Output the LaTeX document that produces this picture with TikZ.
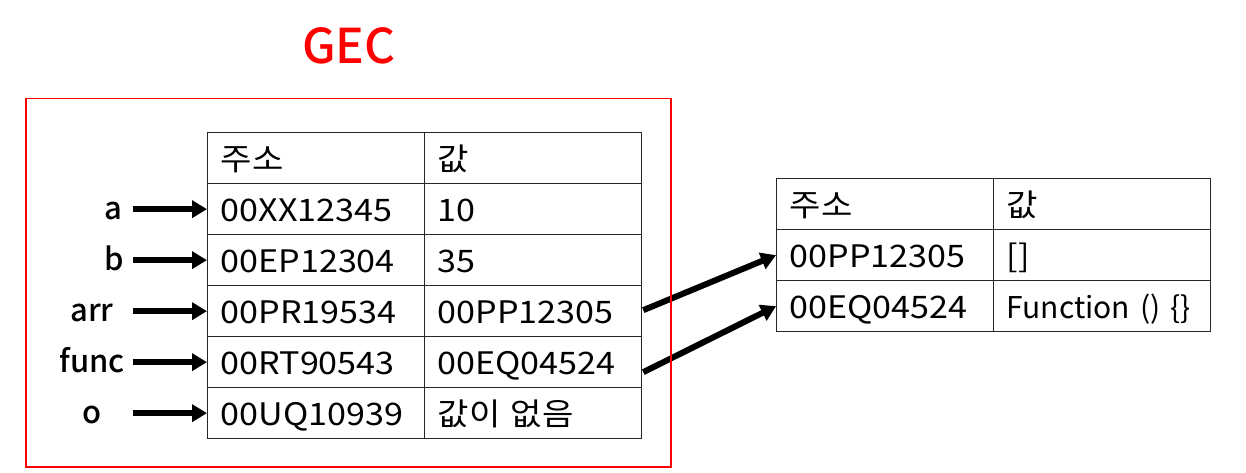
\documentclass[tikz,border=0pt]{standalone}
\usepackage{fontspec}
\setmainfont{Noto Sans CJK KR}
\newfontfamily\tblfont{Noto Sans CJK KR}[FakeStretch=1.1]
\newfontfamily\medfont{Noto Sans CJK KR}[UprightFont={* Medium}]
\usetikzlibrary{arrows.meta,calc}
\begin{document}
\begin{tikzpicture}[x=1pt,y=-1pt,
  cell/.style={draw=black!85, line width=1.3pt, minimum height=51pt,
    text width=191pt, inner xsep=13pt, inner ysep=0pt, align=left,
    anchor=north west, text height=25pt, text depth=0pt,
    font=\tblfont\fontsize{31}{36}\selectfont},
  ptr/.style={line width=6pt, -{Triangle[length=15pt,width=17pt]}},
  lab/.style={font=\medfont\fontsize{31}{36}\selectfont, inner sep=0pt},
  frame/.style={draw=red, line width=1.5pt, inner sep=0pt, anchor=north west}]
\path[use as bounding box, fill=white] (0,0) rectangle (1246,473);

% title
\node[text=red, font=\medfont\fontsize{48}{56}\selectfont] (title) at (349,46) {GEC};

% left table
\node[cell] (h1) at (207,132) {주소};
\node[cell] (h2) at (424,132) {값};
\node[cell] (k1) at (207,183) {00XX12345};
\node[cell] (v1) at (424,183) {10};
\node[cell] (k2) at (207,234) {00EP12304};
\node[cell] (v2) at (424,234) {35};
\node[cell] (k3) at (207,285) {00PR19534};
\node[cell] (v3) at (424,285) {00PP12305};
\node[cell] (k4) at (207,336) {00RT90543};
\node[cell] (v4) at (424,336) {00EQ04524};
\node[cell] (k5) at (207,387) {00UQ10939};
\node[cell] (v5) at (424,387) {값이 없음};

% right table
\node[cell] (rh1) at (776,178) {주소};
\node[cell] (rh2) at (993,178) {값};
\node[cell] (rk1) at (776,229) {00PP12305};
\node[cell] (rv1) at (993,229) {[]};
\node[cell] (rk2) at (776,280) {00EQ04524};
\node[cell, font=\fontsize{30}{36}\selectfont] (rv2) at (993,280) {\mbox{Function () \{\}}};

% variable labels and arrows
\coordinate (s1) at ($(k1.west)+(-74,0)$);
\coordinate (s2) at ($(k2.west)+(-74,0)$);
\coordinate (s3) at ($(k3.west)+(-74,0)$);
\coordinate (s4) at ($(k4.west)+(-74,0)$);
\coordinate (s5) at ($(k5.west)+(-74,0)$);
\node[lab, anchor=base east] (la) at ($(s1)+(-10,10)$) {a};
\node[lab, anchor=base east] (lb) at ($(s2)+(-9,10)$) {b};
\node[lab, anchor=base] (lc) at ($(s3)+(-41,10)$) {arr};
\node[lab, anchor=base] (ld) at ($(s4)+(-41,10)$) {func};
\node[lab, anchor=base] (le) at ($(s5)+(-41,10)$) {o};
\draw[ptr] (s1) -- (k1.west);
\draw[ptr] (s2) -- (k2.west);
\draw[ptr] (s3) -- (k3.west);
\draw[ptr] (s4) -- (k4.west);
\draw[ptr] (s5) -- (k5.west);

% pointers to right table
\draw[ptr] ($(v3.east)+(1,-1)$) -- (rk1.west);
\draw[ptr] ($(v4.east)+(1,10)$) -- (rk2.west);

% GEC frame
\node[frame, minimum width=645pt, minimum height=368pt] (gec) at (25,98) {};
\end{tikzpicture}
\end{document}
